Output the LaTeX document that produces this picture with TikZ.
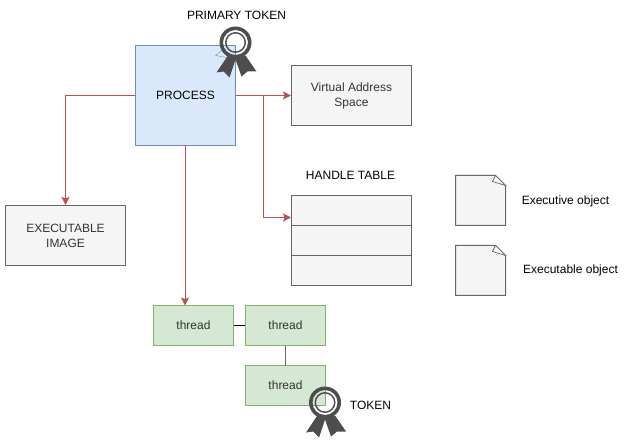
\documentclass[tikz,border=0pt]{standalone}
\usepackage{fontspec}
\usepackage{xcolor}
\usepackage{tikz}
\usetikzlibrary{positioning}
\usetikzlibrary{arrows.meta}
\setmainfont{Liberation Sans}
\definecolor{procfill}{HTML}{DAE8FC}
\definecolor{procline}{HTML}{6C8EBF}
\definecolor{boxfill}{HTML}{F5F5F5}
\definecolor{boxline}{HTML}{666666}
\definecolor{thrfill}{HTML}{D5E8D4}
\definecolor{thrline}{HTML}{82B366}
\definecolor{arrline}{HTML}{B85450}
\definecolor{ribbon}{HTML}{4D4D4D}
\tikzset{
	lbl/.style={font=\fontsize{12}{15}\selectfont, text=black, inner sep=0pt, align=center},
	procbox/.style={lbl, draw=procline, line width=1, fill=procfill, minimum width=100, minimum height=100},
	graybox/.style={lbl, draw=boxline, line width=1, fill=boxfill, text=black!80, minimum width=120, minimum height=60},
	rowbox/.style={draw=boxline, line width=1, fill=boxfill, minimum width=120, minimum height=30, inner sep=0pt},
	thrbox/.style={lbl, draw=thrline, line width=1, fill=thrfill, text=black!80, minimum width=80, minimum height=40},
	link/.style={draw=arrline, line width=1, -{Stealth[length=8,width=8,inset=1.5]}},
}
\newcommand{\Rosette}[2]{
	\begin{scope}[shift={(#1,#2)}]
		\fill[ribbon] (-8,13.5) -- (-19,30) -- (-12,29) -- (-6,35) -- (0,17) -- (6,34) -- (12,29) -- (21,29) -- (10,13) -- (0,15.5) -- cycle;
		\fill[ribbon, even odd rule] (0,0) circle (16) (0,0) circle (12.5) (0,0) circle (10.5) (0,0) circle (9);
	\end{scope}
}
\newcommand{\NoteShape}[3]{
	\filldraw[draw=boxline, line width=1, fill=boxfill] (#1,#2) -- ++(40,0) -- ++(10,10) -- ++(0,40) -- ++(-50,0) -- cycle;
	\draw[draw=boxline, line width=.7, fill=boxfill] (#1+40,#2) -- ++(-3,6) -- ++(13,4) -- cycle;
	\coordinate (#3) at (#1+25,#2+25);
}

\begin{document}
\begin{tikzpicture}[x=1pt, y=-1pt]
	\useasboundingbox (-0.5,-0.5) rectangle (630.5,442.5);
	% boxes
	\node[procbox] (process) at (185,95) {PROCESS};
	\draw[procline] (215,55) -- (221,50) (215,55) -- (226,57);
	\node[graybox] (vas) at (351,95) {Virtual Address\\Space};
	\node[graybox] (image) at (65,235) {EXECUTABLE\\IMAGE};
	\node[rowbox] (row0) at (351,210) {};
	\node[rowbox] (row1) at (351,240) {};
	\node[rowbox] (row2) at (351,270) {};
	\node[thrbox] (thread0) at (193,325) {thread};
	\node[thrbox] (thread1) at (285,325) {thread};
	\node[thrbox] (thread2) at (285,385) {thread};
	\NoteShape{455}{175}{note0}
	\NoteShape{455}{245}{note1}
	% labels
	\node[lbl] (primary) at (236,15) {PRIMARY TOKEN};
	\node[lbl] (table) at (350,175) {HANDLE TABLE};
	\node[lbl] (token) at (370,405) {TOKEN};
	\node[lbl] (execobj) at (565,200.5) {Executive object};
	\node[lbl] (imgobj) at (570,270) {Executable object};
	% connectors
	\coordinate (branch) at (263,95);
	\coordinate (rowin) at (290.5,217);
	\coordinate (thrin) at (184.5,305);
	\coordinate (thrtop) at (184.5,145);
	\coordinate (linktop) at (284.5,345);
	\coordinate (linkbot) at (284.5,365);
	\draw[link] (process.west) -| (image.north);
	\draw[link] (thrtop) -- (thrin);
	\draw[link] (process.east) -- (vas.west);
	\draw[link] (branch) |- (rowin);
	\draw[line width=1] (thread0.east) -- (thread1.west);
	\draw[boxline, line width=1] (linktop) -- (linkbot);
	% tokens
	\Rosette{235}{42}
	\Rosette{324.5}{402}
\end{tikzpicture}
\end{document}
